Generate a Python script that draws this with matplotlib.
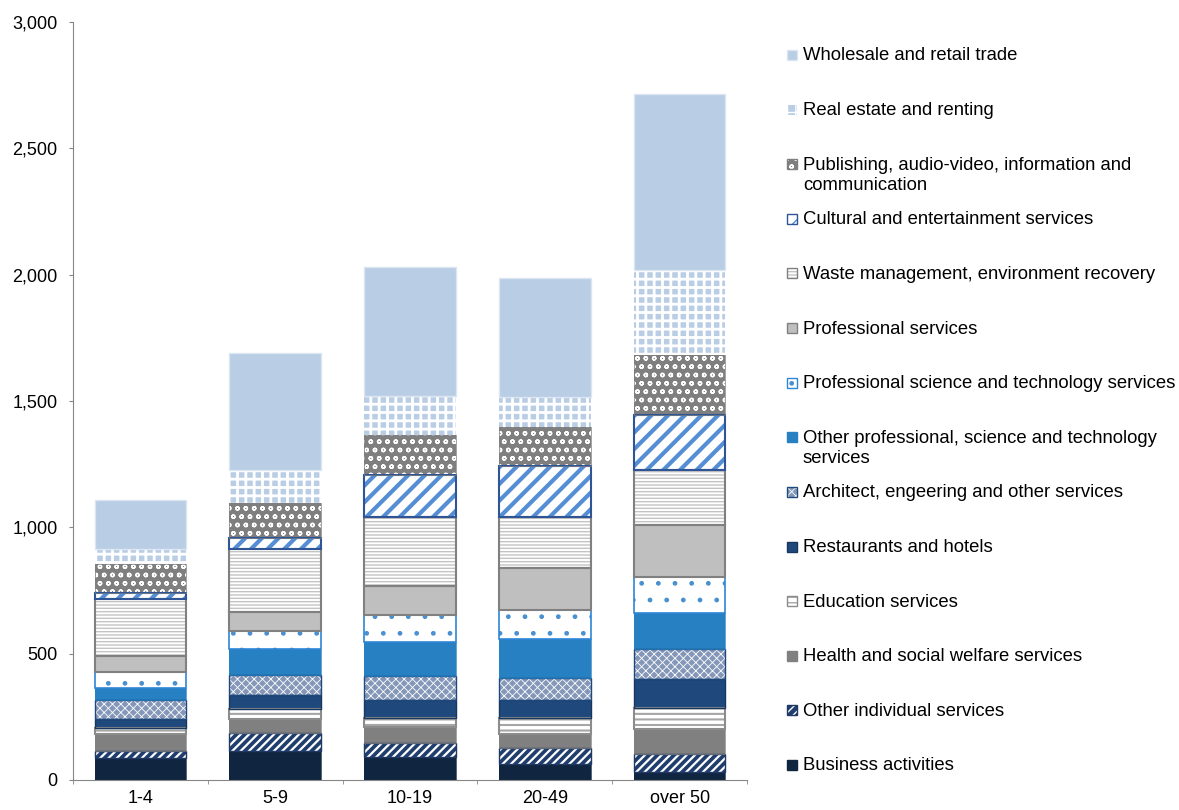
import numpy as np
import matplotlib
matplotlib.use('Agg')
import matplotlib.pyplot as plt
from matplotlib.patches import Rectangle
from matplotlib.ticker import FuncFormatter

plt.rcParams['font.family'] = ['Liberation Sans', 'DejaVu Sans']

categories = ['1-4', '5-9', '10-19', '20-49', 'over 50']

# stacked from the bottom up
business = [87, 115, 91, 63, 32]
other_individual = [28, 71, 55, 64, 71]
health = [67, 55, 64, 55, 99]
education = [24, 40, 35, 63, 83]
restaurants = [35, 55, 72, 72, 115]
architect = [76, 79, 95, 87, 118]
other_professional = [47, 103, 134, 154, 143]
prof_science = [63, 72, 107, 115, 142]
professional = [64, 75, 115, 166, 206]
waste = [225, 249, 273, 202, 218]
cultural = [24, 44, 166, 202, 218]
publishing = [115, 138, 158, 154, 237]
real_estate = [59, 131, 155, 119, 337]
wholesale = [193, 463, 510, 469, 696]

labels = ['Business activities',
          'Other individual services',
          'Health and social welfare services',
          'Education services',
          'Restaurants and hotels',
          'Architect, engeering and other services',
          'Other professional, science and technology\nservices',
          'Professional science and technology services',
          'Professional services',
          'Waste management, environment recovery',
          'Cultural and entertainment services',
          'Publishing, audio-video, information and\ncommunication',
          'Real estate and renting',
          'Wholesale and retail trade']

values = [business, other_individual, health, education, restaurants, architect,
          other_professional, prof_science, professional, waste, cultural,
          publishing, real_estate, wholesale]

# face, hatch, hatch colour, hatch width, edge colour, edge width
styles = [
    ('#10253F', None, '#10253F', 1.0, '#10253F', 0.5),
    ('#1F3E6E', '////', 'white', 1.6, '#1F3864', 1.0),
    ('#808080', None, '#808080', 1.0, '#808080', 0.5),
    ('white', '---', '#A6A6A6', 1.5, '#8C8C8C', 1.5),
    ('#1F497D', None, '#1F497D', 1.0, '#17375E', 1.0),
    ('#8497B8', 'xxxx', 'white', 0.6, '#1F497D', 1.0),
    ('#2680C2', None, '#2680C2', 1.0, '#2680C2', 0.5),
    ('white', '.', '#4A90D0', 1.0, '#2E86D6', 1.2),
    ('#BFBFBF', None, '#BFBFBF', 1.0, '#808080', 1.5),
    ('white', '-----', '#C4C4C4', 1.0, '#808080', 1.5),
    ('white', '//', '#558ED5', 3.0, '#2F5597', 1.5),
    ('#7F7F7F', 'oo', 'white', 1.0, '#7F7F7F', 0.5),
    ('#B9CDE5', '++', 'white', 2.0, 'none', 0.0),
    ('#B9CDE5', None, '#B9CDE5', 1.0, '#DCE6F2', 1.0),
]

W, H = 1179, 810
fig = plt.figure(figsize=(W / 100, H / 100), dpi=100)
ax = fig.add_axes([73 / W, 30 / H, (747 - 73) / W, (780 - 22) / H])

x = np.arange(len(categories))
width = 0.68
bottom = np.zeros(len(categories))

for vals, st in zip(values, styles):
    face, hatch, hcol, hlw, edge, elw = st
    with plt.rc_context({'hatch.linewidth': hlw}):
        ax.bar(x, vals, width, bottom=bottom, color=face, hatch=hatch,
               edgecolor=hcol, linewidth=0, zorder=2)
    ax.bar(x, vals, width, bottom=bottom, fill=False, edgecolor=edge,
           linewidth=elw, zorder=3)
    bottom += np.array(vals)

ax.set_xlim(-0.5, len(categories) - 0.5)
ax.set_ylim(0, 3000)
ax.set_yticks(np.arange(0, 3001, 500))
ax.yaxis.set_major_formatter(FuncFormatter(lambda v, p: '{:,.0f}'.format(v)))
ax.set_xticks(x)
ax.set_xticklabels(categories)
ax.set_xticks(np.arange(-0.5, len(categories), 1.0), minor=True)
ax.tick_params(axis='x', which='major', length=0, pad=7, labelsize=13)
ax.tick_params(axis='x', which='minor', length=3, color='#868686', direction='out')
ax.tick_params(axis='y', length=3, color='#868686', pad=8, labelsize=13)
for s in ['top', 'right']:
    ax.spines[s].set_visible(False)
for s in ['left', 'bottom']:
    ax.spines[s].set_color('#868686')

# legend, drawn by hand so every entry gets the same slot
row0, step = 55, (765 - 55) / 13
for i, (lab, st) in enumerate(zip(labels[::-1], styles[::-1])):
    face, hatch, hcol, hlw, edge, elw = st
    yc = row0 + i * step
    with plt.rc_context({'hatch.linewidth': min(hlw, 1.0)}):
        fig.add_artist(Rectangle((787 / W, 1 - (yc + 5) / H), 10 / W, 10 / H,
                                 transform=fig.transFigure, facecolor=face,
                                 hatch=hatch, edgecolor=hcol, linewidth=0))
    if elw > 0 and edge != 'none':
        fig.add_artist(Rectangle((787 / W, 1 - (yc + 5) / H), 10 / W, 10 / H,
                                 transform=fig.transFigure, fill=False,
                                 edgecolor=edge, linewidth=1.0))
    ty = yc + 1 + (10.5 if '\n' in lab else 0)
    fig.text(803 / W, 1 - ty / H, lab, fontsize=13.3, va='center', ha='left',
             linespacing=1.22)

fig.savefig('out.png', dpi=100)
